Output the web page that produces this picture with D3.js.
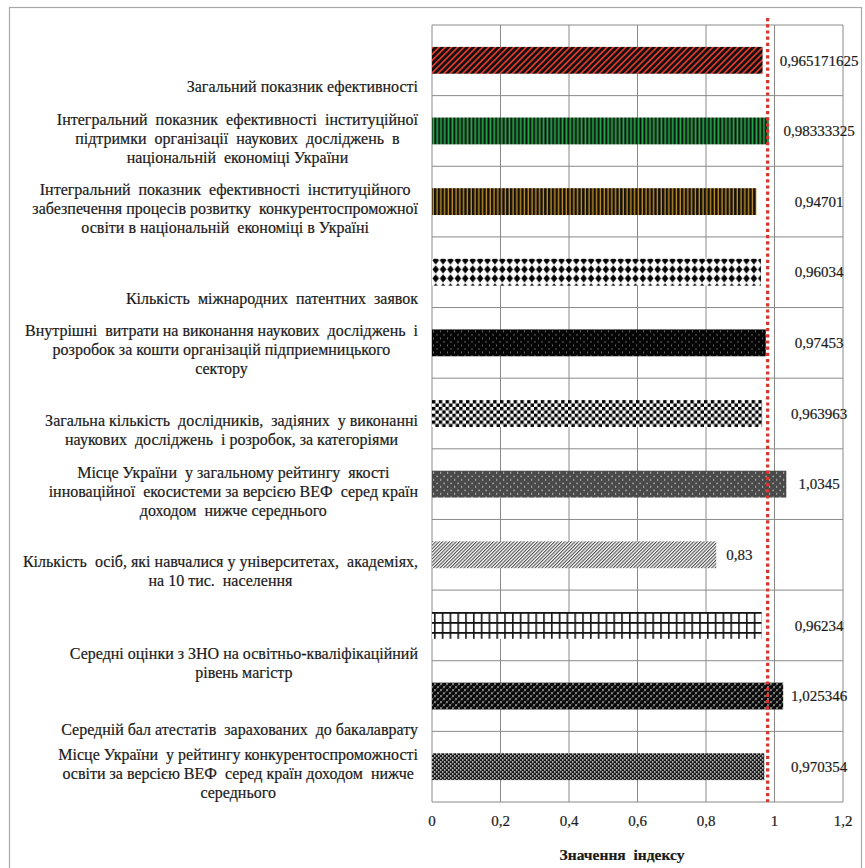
<!DOCTYPE html>
<html>
<head>
<meta charset="utf-8">
<script src="https://cdn.jsdelivr.net/npm/d3@7"></script>
<style>
  html, body { margin: 0; padding: 0; background: #fff; }
  svg { display: block; }
</style>
</head>
<body>
<svg id="chart" width="865" height="868"></svg>
<script>
// Indicator names (each entry is the list of wrapped lines shown beside a bar)
const categories = [
  ["Загальний показник ефективності"],
  ["Інтегральний  показник  ефективності  інституційної", "підтримки  організації  наукових  досліджень  в", "національній  економіці України"],
  ["Інтегральний  показник  ефективності  інституційного", "забезпечення процесів розвитку  конкурентоспроможної", "освіти в національній  економіці в Україні"],
  ["Кількість  міжнародних  патентних  заявок"],
  ["Внутрішні  витрати на виконання наукових  досліджень  і", "розробок за кошти організацій підприемницького", "сектору"],
  ["Загальна кількість  дослідників,  задіяних  у виконанні", "наукових  досліджень  і розробок, за категоріями"],
  ["Місце України  у загальному рейтингу  якості", "інноваційної  екосистеми за версією ВЕФ  серед країн", "доходом  нижче середнього"],
  ["Кількість  осіб, які навчалися у університетах,  академіях,", "на 10 тис.  населення"],
  ["Середні оцінки з ЗНО на освітньо-кваліфікаційний", "рівень магістр"],
  ["Середній бал атестатів  зарахованих  до бакалаврату"],
  ["Місце України  у рейтингу конкурентоспроможності", "освіти за версією ВЕФ  серед країн доходом  нижче", "середнього"]
];

// Index values
const values = [0.965171625, 0.98333325, 0.94701, 0.96034, 0.97453, 0.963963, 1.0345, 0.83, 0.96234, 1.025346, 0.970354];

// Axis ticks
const tickValues = [0, 0.2, 0.4, 0.6, 0.8, 1, 1.2];
const tickLabels = ["0", "0,2", "0,4", "0,6", "0,8", "1", "1,2"];

// Reference level (red dotted line)
const referenceLevel = [0.98];

const axisTitle = "Значення  індексу";

// ---------------------------------------------------------------
const svg = d3.select("#chart");
const FONT = '"Liberation Serif"';
const plot = { left: 432, right: 843, top: 25, bottom: 802 };

const x = d3.scaleLinear().domain([0, 1.2]).range([plot.left, plot.right]);
const y = d3.scaleBand()
  .domain(d3.range(categories.length))
  .range([plot.top, plot.bottom])
  .paddingInner(0.62)
  .paddingOuter(0.31);

const gridColor = "#8a8a8a";
const textColor = "#1a1a1a";

// styled text helper: serif face, slightly heavy ink
function styleText(sel, size, weight) {
  return sel
    .style("font-family", FONT)
    .style("font-size", size + "px")
    .style("font-weight", weight || "normal")
    .style("white-space", "pre")
    .attr("fill", textColor)
    .attr("stroke", textColor)
    .attr("stroke-width", 0.2);
}

// outer frame
svg.append("rect")
  .attr("x", 9.5).attr("y", 7.5).attr("width", 852).attr("height", 880)
  .attr("fill", "#fff").attr("stroke", "#a8a8a8").attr("stroke-width", 1.2);

// ---------- fill patterns, one per bar, anchored at the bar's top ----------
const defs = svg.append("defs");

function makePattern(i, w, h, draw, opts = {}) {
  const p = defs.append("pattern")
    .attr("id", "pat" + i)
    .attr("patternUnits", "userSpaceOnUse")
    .attr("x", plot.left + (opts.dx || 0))
    .attr("y", y(i) + (opts.dy || 0))
    .attr("width", w).attr("height", h);
  if (opts.transform) p.attr("patternTransform", opts.transform);
  draw(p);
}

const patternBuilders = [
  // 0: black with red diagonal stripes
  i => makePattern(i, 4.4, 4.4, p => {
    p.append("rect").attr("width", 4.4).attr("height", 4.4).attr("fill", "#111");
    p.append("rect").attr("x", 0).attr("width", 1.7).attr("height", 4.4).attr("fill", "#e2372c");
  }, { transform: `rotate(45 ${plot.left} ${y(i)})` }),
  // 1: black/green vertical stripes
  i => makePattern(i, 3.8, 10, p => {
    p.append("rect").attr("width", 3.8).attr("height", 10).attr("fill", "#0d0d0d");
    p.append("rect").attr("x", 0.5).attr("width", 1.8).attr("height", 10).attr("fill", "#26ad4b");
  }),
  // 2: black/ochre vertical stripes
  i => makePattern(i, 3.8, 10, p => {
    p.append("rect").attr("width", 3.8).attr("height", 10).attr("fill", "#141008");
    p.append("rect").attr("x", 0.6).attr("width", 1.3).attr("height", 10).attr("fill", "#c8952c");
  }),
  // 3: rows of diamonds
  i => makePattern(i, 7.4, 9, p => {
    p.append("rect").attr("width", 7.4).attr("height", 9).attr("fill", "#fff");
    p.append("path").attr("d", "M3.7,-2.6 L7,1.6 L3.7,5.8 L0.4,1.6 Z").attr("fill", "#000");
    p.append("path").attr("d", "M3.7,6.4 L7,10.6 L3.7,14.8 L0.4,10.6 Z").attr("fill", "#000");
  }),
  // 4: black with small white dots
  i => makePattern(i, 7, 7, p => {
    p.append("rect").attr("width", 7).attr("height", 7).attr("fill", "#050505");
    p.append("rect").attr("x", 1).attr("y", 1.5).attr("width", 1).attr("height", 1).attr("fill", "#bbb");
    p.append("rect").attr("x", 4.5).attr("y", 5).attr("width", 1).attr("height", 1).attr("fill", "#bbb");
  }),
  // 5: checkerboard
  i => makePattern(i, 6.8, 6.8, p => {
    p.append("rect").attr("width", 6.8).attr("height", 6.8).attr("fill", "#fff");
    p.append("rect").attr("width", 3.4).attr("height", 3.4).attr("fill", "#000");
    p.append("rect").attr("x", 3.4).attr("y", 3.4).attr("width", 3.4).attr("height", 3.4).attr("fill", "#000");
  }),
  // 6: dark grey with white dots
  i => makePattern(i, 7, 7, p => {
    p.append("rect").attr("width", 7).attr("height", 7).attr("fill", "#4a4a4a");
    p.append("rect").attr("x", 1).attr("y", 1.5).attr("width", 1.2).attr("height", 1.2).attr("fill", "#e6e6e6");
    p.append("rect").attr("x", 4.5).attr("y", 5).attr("width", 1.2).attr("height", 1.2).attr("fill", "#e6e6e6");
  }),
  // 7: fine grey diagonal hatch
  i => makePattern(i, 2.4, 2.4, p => {
    p.append("rect").attr("width", 2.4).attr("height", 2.4).attr("fill", "#fff");
    p.append("rect").attr("width", 1.1).attr("height", 2.4).attr("fill", "#4d4d4d");
  }, { transform: `rotate(45 ${plot.left} ${y(i)})` }),
  // 8: open grid
  i => makePattern(i, 7.8, 10, p => {
    p.append("rect").attr("width", 7.8).attr("height", 10).attr("fill", "#fff");
    p.append("rect").attr("x", 2).attr("width", 1.6).attr("height", 10).attr("fill", "#111");
    p.append("rect").attr("y", 0).attr("width", 7.8).attr("height", 1.8).attr("fill", "#111");
  }),
  // 9: spheres
  i => makePattern(i, 6, 6, p => {
    p.append("rect").attr("width", 6).attr("height", 6).attr("fill", "#fff");
    [[0, 0], [6, 0], [0, 6], [6, 6], [3, 3]].forEach(([cx, cy]) =>
      p.append("circle").attr("cx", cx).attr("cy", cy).attr("r", 2.45).attr("fill", "#0a0a0a"));
    [[3, 3], [0, 0], [6, 0], [0, 6], [6, 6]].forEach(([cx, cy]) =>
      p.append("rect").attr("x", cx - 1.6).attr("y", cy - 1.6).attr("width", 0.8).attr("height", 0.8).attr("fill", "#9a9a9a"));
  }, { dy: 1.5 }),
  // 10: fine dither
  i => makePattern(i, 4, 4, p => {
    p.append("rect").attr("width", 4).attr("height", 4).attr("fill", "#151515");
    p.append("rect").attr("x", 0).attr("y", 0).attr("width", 1.5).attr("height", 1.5).attr("fill", "#eee");
    p.append("rect").attr("x", 2).attr("y", 2).attr("width", 1.5).attr("height", 1.5).attr("fill", "#eee");
  })
];
patternBuilders.forEach((build, i) => build(i));

// ---------- grid ----------
const grid = svg.append("g");
d3.range(categories.length + 1).forEach(k => {
  const yy = plot.top + k * y.step();
  grid.append("line")
    .attr("x1", plot.left).attr("x2", plot.right)
    .attr("y1", yy).attr("y2", yy)
    .attr("stroke", gridColor).attr("stroke-width", 1);
});
tickValues.forEach(t => {
  grid.append("line")
    .attr("x1", x(t)).attr("x2", x(t))
    .attr("y1", plot.top).attr("y2", plot.bottom)
    .attr("stroke", gridColor).attr("stroke-width", 1);
});

// ---------- bars ----------
svg.append("g").selectAll("rect")
  .data(values)
  .join("rect")
  .attr("x", x(0))
  .attr("y", (d, i) => y(i))
  .attr("width", d => x(d) - x(0))
  .attr("height", y.bandwidth())
  .attr("fill", (d, i) => `url(#pat${i})`);

// ---------- reference line ----------
svg.append("g").selectAll("line")
  .data(referenceLevel)
  .join("line")
  .attr("x1", d => x(d)).attr("x2", d => x(d))
  .attr("y1", 18).attr("y2", plot.bottom)
  .attr("stroke", "#d8342c").attr("stroke-width", 3.2)
  .attr("stroke-dasharray", "3.2 3");

// ---------- value labels ----------
const fmt = v => String(v).replace(".", ",");
styleText(svg.append("g").selectAll("text")
  .data(values)
  .join("text")
  .attr("x", d => d < 0.9 ? x(d) + 10 : x(1.13))
  .attr("y", (d, i) => y(i) + y.bandwidth() / 2)
  .attr("dy", "0.35em")
  .attr("text-anchor", d => d < 0.9 ? "start" : "middle")
  .text(fmt), 15);

// ---------- category labels: centred lines, block right-aligned to the axis ----------
const lineH = 19;
const labelRight = 418;
const labelNudge = { 8: 21, 9: 7 };
const labelG = svg.append("g");
categories.forEach((lines, i) => {
  const g = labelG.append("g");
  const lastY = y(i) + y.bandwidth() / 2 + 26 + (labelNudge[i] || 0);
  const texts = lines.map((s, k) => styleText(g.append("text")
    .attr("y", lastY - (lines.length - 1 - k) * lineH)
    .attr("dy", "0.35em")
    .attr("text-anchor", "middle")
    .text(s), 16));
  const blockW = d3.max(texts, t => t.node().getComputedTextLength());
  texts.forEach(t => t.attr("x", labelRight - blockW / 2));
});

// ---------- x-axis tick labels ----------
styleText(svg.append("g").selectAll("text")
  .data(tickValues)
  .join("text")
  .attr("x", d => x(d))
  .attr("y", 821)
  .attr("dy", "0.35em")
  .attr("text-anchor", "middle")
  .text((d, i) => tickLabels[i]), 15);

// axis title
styleText(svg.append("text")
  .attr("x", 622).attr("y", 855)
  .attr("dy", "0.35em")
  .attr("text-anchor", "middle")
  .text(axisTitle), 15.5, "bold");
</script>
</body>
</html>
